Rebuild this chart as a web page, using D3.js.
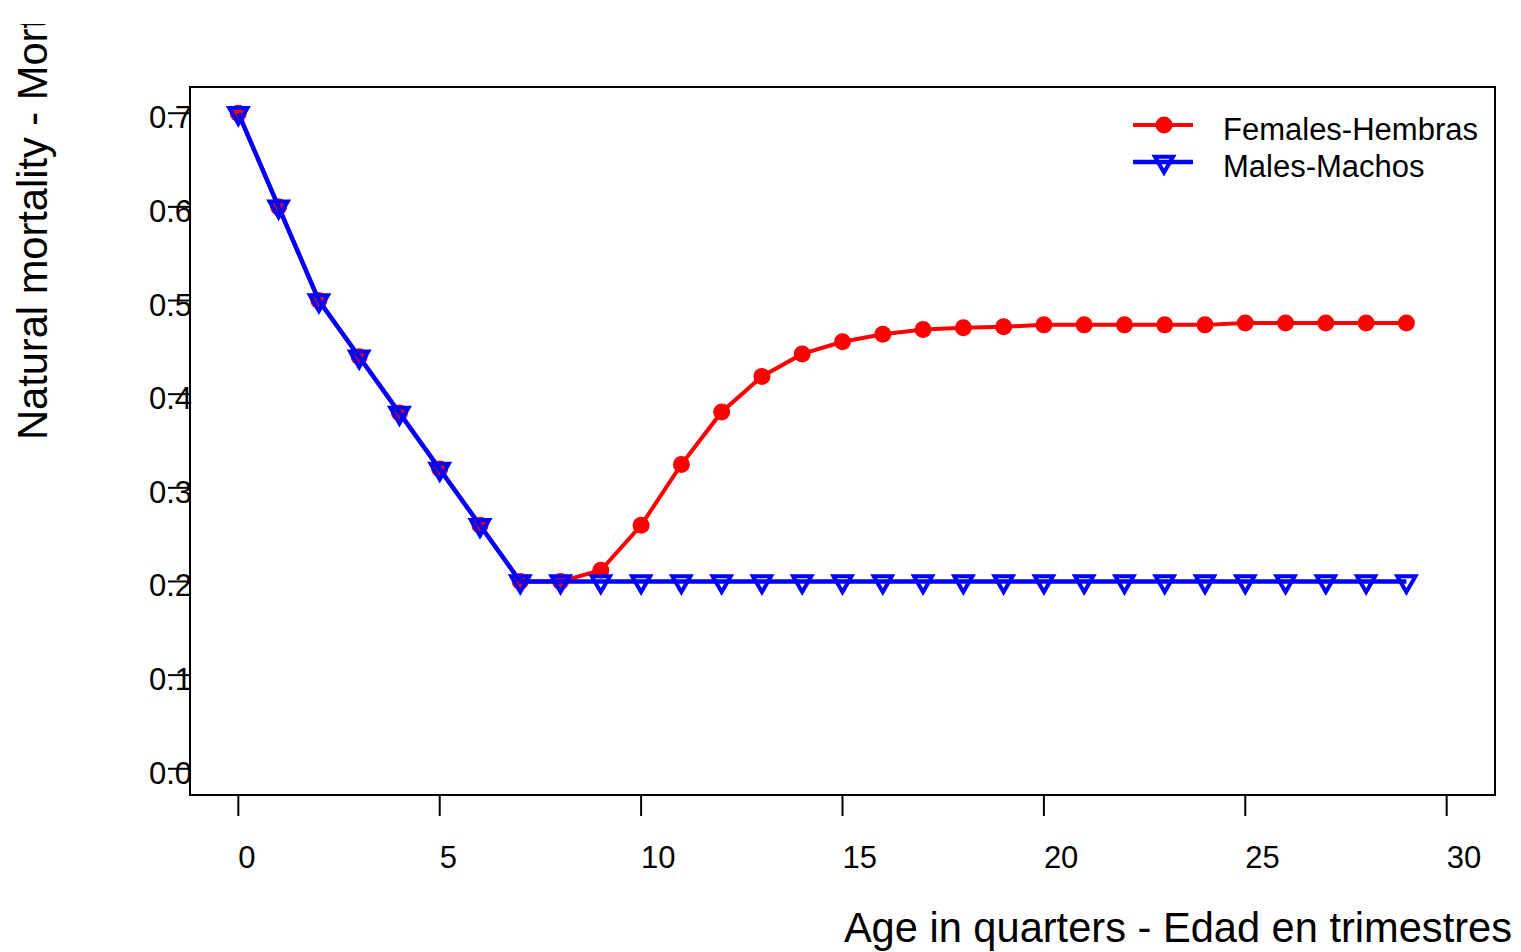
<!DOCTYPE html>
<html>
<head>
<meta charset="utf-8">
<script src="https://cdn.jsdelivr.net/npm/d3@7"></script>
<style>
  html, body { margin: 0; padding: 0; background: #fff; }
  svg { display: block; font-family: "Liberation Sans", Arial, sans-serif; }
</style>
</head>
<body>
<svg id="chart" width="1521" height="952"></svg>
<script>
// ages (quarters)
const ages = [0, 1, 2, 3, 4, 5, 6, 7, 8, 9, 10, 11, 12, 13, 14, 15, 16, 17, 18, 19,
              20, 21, 22, 23, 24, 25, 26, 27, 28, 29];
const females = [0.70, 0.60, 0.50, 0.44, 0.38, 0.32, 0.26, 0.20, 0.20, 0.212,
                 0.26, 0.325, 0.381, 0.419, 0.443, 0.456, 0.464, 0.469, 0.471, 0.472,
                 0.474, 0.474, 0.474, 0.474, 0.474, 0.476, 0.476, 0.476, 0.476, 0.476];
const males = [0.70, 0.60, 0.50, 0.44, 0.38, 0.32, 0.26, 0.20, 0.20, 0.20,
               0.20, 0.20, 0.20, 0.20, 0.20, 0.20, 0.20, 0.20, 0.20, 0.20,
               0.20, 0.20, 0.20, 0.20, 0.20, 0.20, 0.20, 0.20, 0.20, 0.20];
const xTicks = [0, 5, 10, 15, 20, 25, 30];
const yTicks = [0.0, 0.1, 0.2, 0.3, 0.4, 0.5, 0.6, 0.7];
const legendLabels = ["Females-Hembras", "Males-Machos"];

const svg = d3.select("#chart");

const plot = { left: 190, top: 87, right: 1495, bottom: 795 };

const x = d3.scaleLinear().domain([-1.2, 31.2]).range([plot.left, plot.right]);
const y = d3.scaleLinear().domain([-0.028, 0.728]).range([plot.bottom, plot.top]);

// frame
svg.append("rect")
  .attr("x", plot.left).attr("y", plot.top)
  .attr("width", plot.right - plot.left)
  .attr("height", plot.bottom - plot.top)
  .attr("fill", "none").attr("stroke", "#000").attr("stroke-width", 2);

// x axis ticks + labels (labels start at tick)
const gx = svg.append("g");
gx.selectAll("line").data(xTicks).join("line")
  .attr("x1", d => x(d)).attr("x2", d => x(d))
  .attr("y1", plot.bottom).attr("y2", plot.bottom + 21)
  .attr("stroke", "#000").attr("stroke-width", 2);
gx.selectAll("text").data(xTicks).join("text")
  .attr("x", d => x(d)).attr("y", 868)
  .attr("font-size", 31)
  .text(d => d);

// y axis ticks + labels (tick drawn over the labels)
const gy = svg.append("g");
gy.selectAll("text").data(yTicks).join("text")
  .attr("x", 192).attr("y", d => y(d) + 15)
  .attr("text-anchor", "end")
  .attr("font-size", 31)
  .text(d => d.toFixed(1));
gy.selectAll("line").data(yTicks).join("line")
  .attr("x1", 168).attr("x2", plot.left)
  .attr("y1", d => y(d)).attr("y2", d => y(d))
  .attr("stroke", "#000").attr("stroke-width", 2);

// axis titles
svg.append("text")
  .attr("x", 1512).attr("y", 942)
  .attr("text-anchor", "end")
  .attr("font-size", 41.6)
  .text("Age in quarters - Edad en trimestres");

// y title runs off the top edge in the original, clipped there
svg.append("clipPath").attr("id", "ytitle-clip")
  .append("rect").attr("x", 0).attr("y", 24).attr("width", 80).attr("height", 500);
svg.append("g").attr("clip-path", "url(#ytitle-clip)")
  .append("text")
  .attr("transform", "translate(47,440) rotate(-90)")
  .attr("font-size", 41.6)
  .text("Natural mortality - Mortalidad natural");

const line = d3.line()
  .x((d, i) => x(ages[i]))
  .y(d => y(d));

// triangle pointing down, centred on the point
function triDown(cx, cy, r) {
  const hw = r * Math.sqrt(3) / 2;
  return `M${cx - hw},${cy - r / 2}L${cx + hw},${cy - r / 2}L${cx},${cy + r}Z`;
}

// females
svg.append("path")
  .datum(females)
  .attr("d", line)
  .attr("fill", "none").attr("stroke", "#ff0000").attr("stroke-width", 4);
svg.append("g").selectAll("circle").data(females).join("circle")
  .attr("cx", (d, i) => x(ages[i])).attr("cy", d => y(d))
  .attr("r", 8.5).attr("fill", "#ff0000");

// males
svg.append("path")
  .datum(males)
  .attr("d", line)
  .attr("fill", "none").attr("stroke", "#0000ff").attr("stroke-width", 4.5);
svg.append("g").selectAll("path").data(males).join("path")
  .attr("d", (d, i) => triDown(x(ages[i]), y(d), 10.5))
  .attr("fill", "none").attr("stroke", "#0000ff").attr("stroke-width", 4)
  .attr("stroke-linejoin", "miter");

// legend
const legend = svg.append("g");
const legY = [125, 162];
legend.append("line")
  .attr("x1", 1133).attr("x2", 1193).attr("y1", legY[0]).attr("y2", legY[0])
  .attr("stroke", "#ff0000").attr("stroke-width", 4);
legend.append("circle")
  .attr("cx", 1164).attr("cy", legY[0]).attr("r", 8.5).attr("fill", "#ff0000");
legend.append("line")
  .attr("x1", 1133).attr("x2", 1193).attr("y1", legY[1]).attr("y2", legY[1])
  .attr("stroke", "#0000ff").attr("stroke-width", 4.5);
legend.append("path")
  .attr("d", triDown(1164, legY[1], 10.5))
  .attr("fill", "none").attr("stroke", "#0000ff").attr("stroke-width", 4);
legend.selectAll("text").data(legendLabels).join("text")
  .attr("x", 1223).attr("y", (d, i) => legY[i] + 15)
  .attr("font-size", 31)
  .text(d => d);
</script>
</body>
</html>
